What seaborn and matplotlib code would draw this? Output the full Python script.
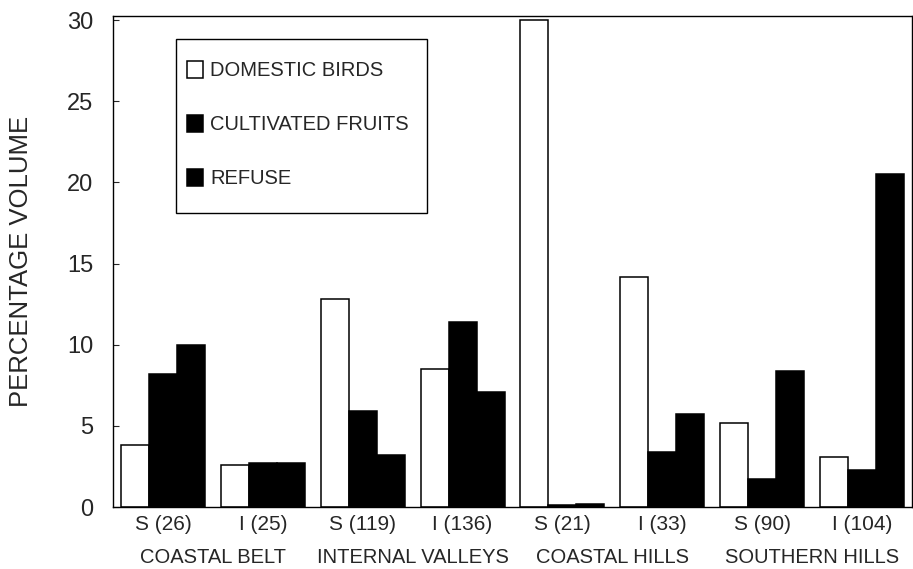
"""
grouped bars of diet composition by region and season
"""

import matplotlib
matplotlib.use('AGG')
import matplotlib.pyplot as plt
import matplotlib.transforms as mtransforms
from matplotlib.patches import Rectangle
import pandas as pd
import seaborn as sns

# samples: season (S/I) and sample size
samples = ['S (26)', 'I (25)', 'S (119)', 'I (136)',
           'S (21)', 'I (33)', 'S (90)', 'I (104)']
regions = ['COASTAL BELT', 'INTERNAL VALLEYS', 'COASTAL HILLS', 'SOUTHERN HILLS']
series = ['DOMESTIC BIRDS', 'CULTIVATED FRUITS', 'REFUSE']

domestic_birds = [3.8, 2.6, 12.8, 8.5, 30.0, 14.2, 5.2, 3.1]
cultivated_fruits = [8.2, 2.7, 5.9, 11.4, 0.1, 3.4, 1.7, 2.3]
refuse = [10.0, 2.7, 3.2, 7.1, 0.2, 5.7, 8.4, 20.5]

rows = []
for name, vals in zip(series, [domestic_birds, cultivated_fruits, refuse]):
    for s, v in zip(samples, vals):
        rows.append({'sample': s, 'food': name, 'volume': v})
data = pd.DataFrame(rows)

sns.set_style('ticks')
plt.rcParams['font.family'] = ['Liberation Sans', 'DejaVu Sans']

fig = plt.figure(figsize=(9.13, 5.69), dpi=100)
ax = fig.add_axes([113 / 913, 1 - 507 / 569, 799 / 913, 491 / 569])

palette = {'DOMESTIC BIRDS': 'white', 'CULTIVATED FRUITS': 'black', 'REFUSE': 'black'}
sns.barplot(data=data, x='sample', y='volume', hue='food', order=samples,
            hue_order=series, palette=palette, edgecolor='black', linewidth=1.1,
            width=0.84, saturation=1, ax=ax)

ax.set_ylim(0, 30.25)
ax.set_xlim(-0.5, 7.5)
ax.set_yticks([0, 5, 10, 15, 20, 25, 30])
ax.tick_params(axis='y', direction='in', length=4, labelsize=17, pad=14)
ax.tick_params(axis='x', length=0, labelsize=15, pad=6)
ax.set_xlabel('')
ax.set_ylabel('PERCENTAGE VOLUME', fontsize=18.5, labelpad=25)
for sp in ax.spines.values():
    sp.set_visible(True)
    sp.set_linewidth(1.0)
    sp.set_color('black')

# region names under each pair of samples
trans = mtransforms.blended_transform_factory(ax.transData, ax.transAxes)
for i, r in enumerate(regions):
    ax.text(2 * i + 0.5, -0.102, r, transform=trans, ha='center', va='center',
            fontsize=14.5)

# legend box drawn on its own, entries placed inside it
ax.add_patch(Rectangle((0.079, 0.599), 0.314, 0.354, transform=ax.transAxes,
                       facecolor='white', edgecolor='black', linewidth=1.0, zorder=4))
leg = ax.legend(loc='upper left', bbox_to_anchor=(0.093, 0.908), borderaxespad=0,
                fontsize=14.5, handlelength=0.8, handleheight=0.9, handletextpad=0.35,
                labelspacing=1.72, borderpad=0, frameon=False)
leg.set_zorder(5)
leg.set_title(None)

fig.savefig('out.png', dpi=100)
plt.close()
